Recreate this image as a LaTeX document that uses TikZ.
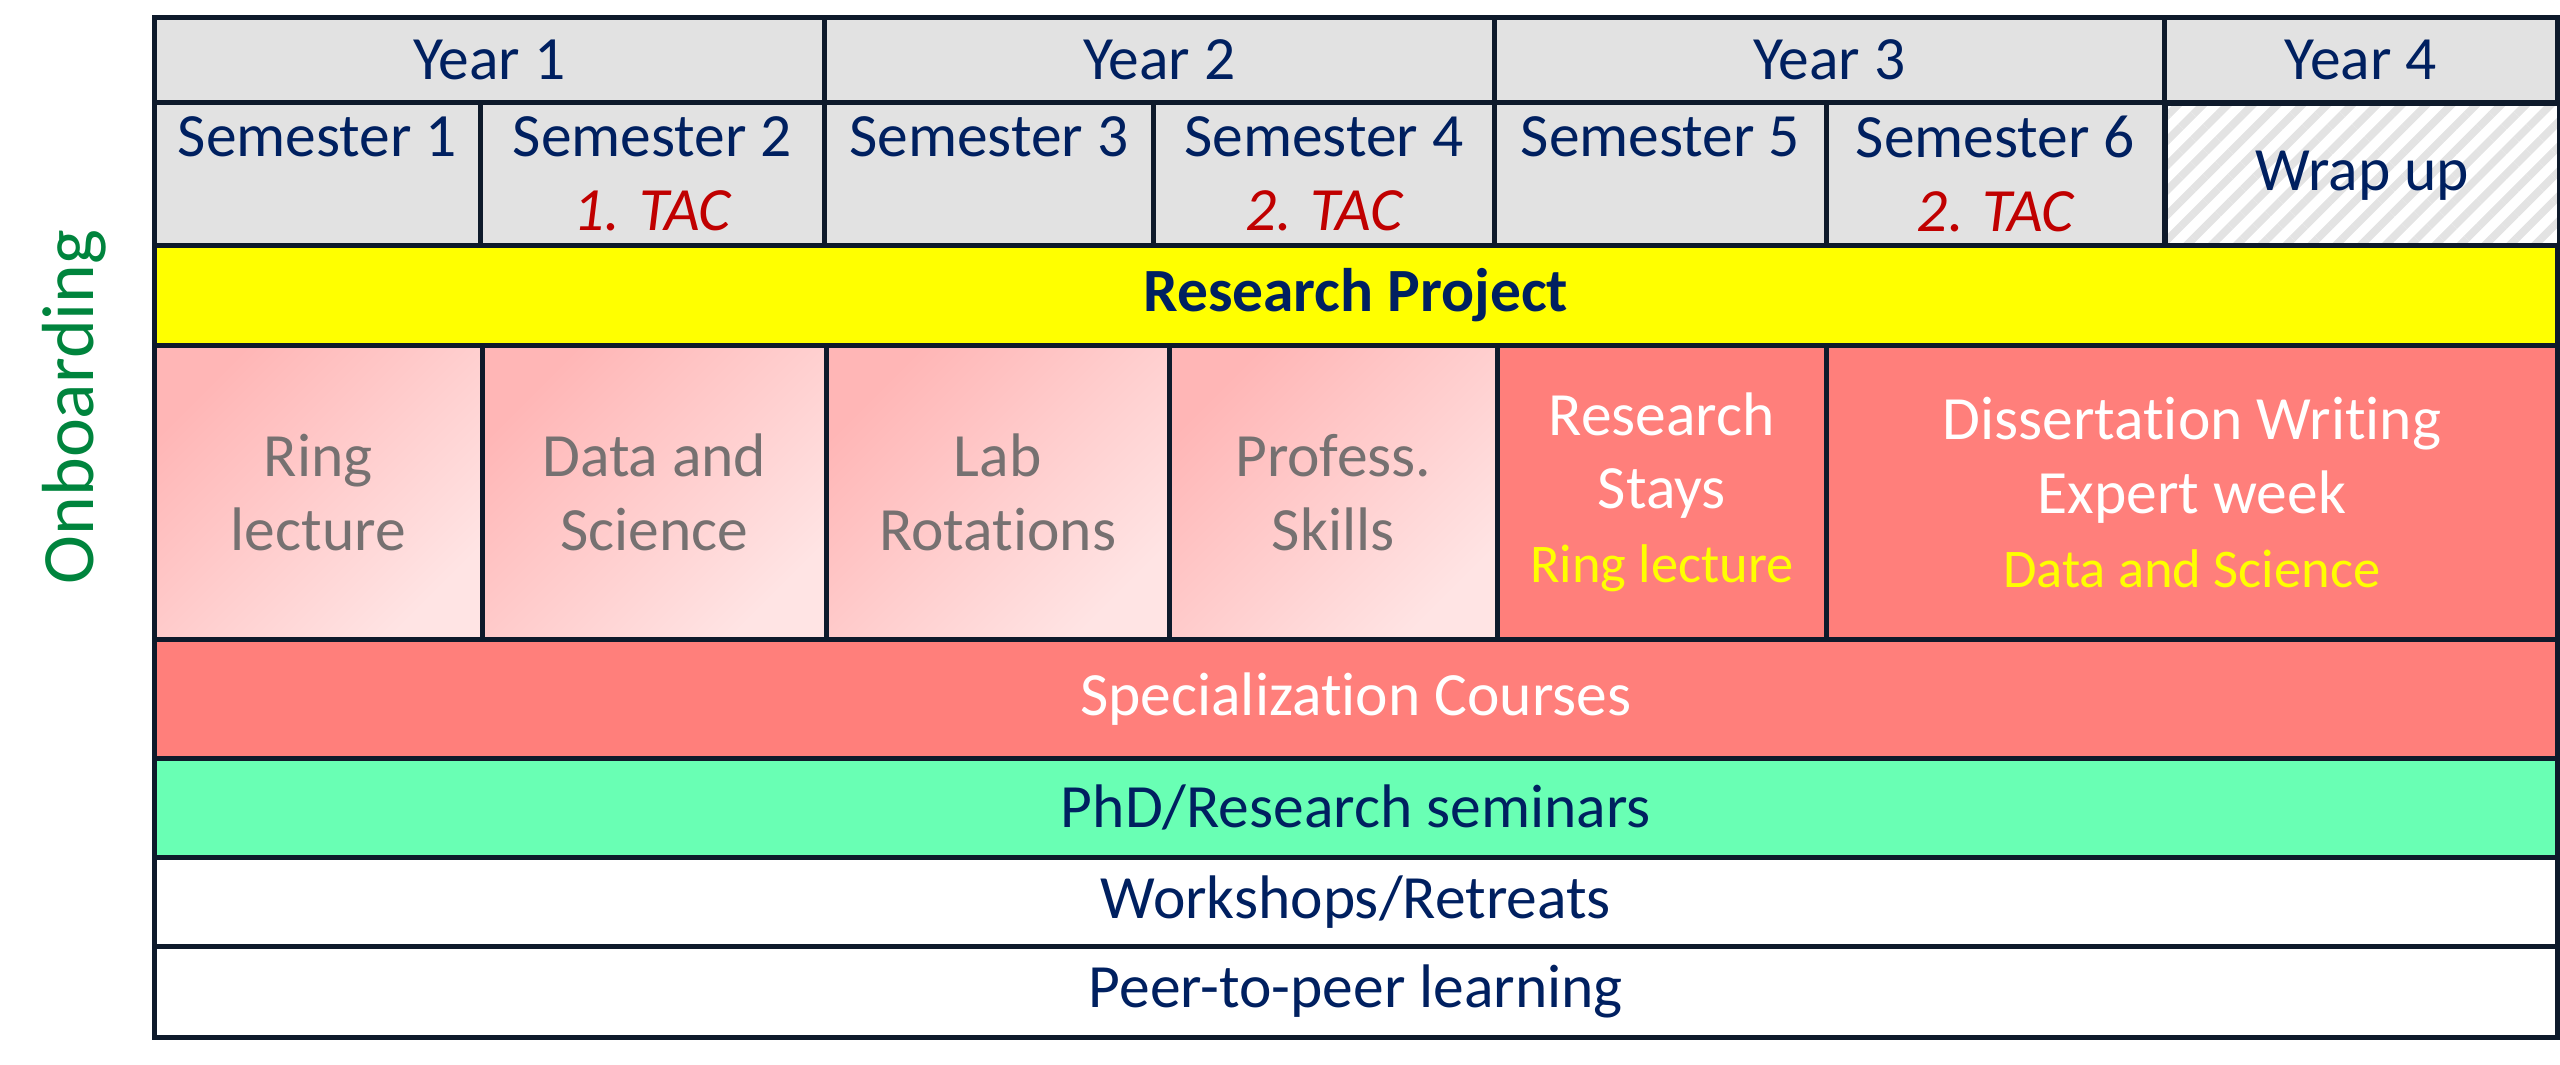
\documentclass[tikz,border=0pt]{standalone}
\usepackage{fontspec}
\setmainfont{Carlito}[Ligatures=NoCommon]
\usetikzlibrary{patterns.meta}

\definecolor{navy}{HTML}{002060}
\definecolor{tacred}{HTML}{C00000}
\definecolor{gridline}{HTML}{0E1A2B}
\definecolor{headgray}{HTML}{E2E2E2}
\definecolor{projyellow}{HTML}{FFFF00}
\definecolor{salmon}{HTML}{FF7F7B}
\definecolor{seminargreen}{HTML}{69FFB4}
\definecolor{pinkA}{HTML}{FFB6B6}
\definecolor{pinkB}{HTML}{FFE4E4}
\definecolor{greytext}{HTML}{767171}
\definecolor{onbgreen}{HTML}{00843D}
\definecolor{hatchgray}{HTML}{E3E3E3}

\newcommand{\tacmark}[1]{\textcolor{tacred}{\itshape #1}}
\newcommand{\subline}[1]{{\color{projyellow}\fontsize{15.5}{19}\selectfont #1}}

\tikzset{
  cell/.style={draw=gridline, line width=1.3pt, inner sep=0pt, anchor=north west,
    align=center, text=navy, font=\fontsize{17.5}{21}\selectfont},
  head/.style={cell, fill=headgray},
  pinkcell/.style={cell, text=greytext, top color=pinkA, bottom color=pinkB, shading angle=45},
  redcell/.style={cell, fill=salmon, text=white},
}

\begin{document}
\begin{tikzpicture}
\useasboundingbox (0,0) rectangle (25.6,-10.65);

% years
\foreach \i/\x/\w in {1/1.52/6.70, 2/8.22/6.70, 3/14.92/6.70, 4/21.62/3.93}
  \node[head, minimum width=\w cm, minimum height=0.85cm] (year\i) at (\x,-0.15) {Year \i};

% semesters
\node[head, minimum width=3.26cm, minimum height=1.43cm] (sem1) at (1.52,-1.00) {Semester 1\\\phantom{1. TAC}};
\node[head, minimum width=3.44cm, minimum height=1.43cm] (sem2) at (4.78,-1.00) {Semester 2\\\tacmark{1. TAC}};
\node[head, minimum width=3.29cm, minimum height=1.43cm] (sem3) at (8.22,-1.00) {Semester 3\\\phantom{2. TAC}};
\node[head, minimum width=3.41cm, minimum height=1.43cm] (sem4) at (11.51,-1.00) {Semester 4\\\tacmark{2. TAC}};
\node[head, minimum width=3.32cm, minimum height=1.43cm] (sem5) at (14.92,-1.00) {Semester 5\\\phantom{2. TAC}};
\node[head, minimum width=3.38cm, minimum height=1.43cm] (sem6) at (18.24,-1.00) {Semester 6\\\tacmark{2. TAC}};
\node[cell, minimum width=3.93cm, minimum height=1.43cm,
  pattern={Lines[angle=45,distance=5pt,line width=2.2pt]}, pattern color=hatchgray]
  (wrap) at (21.62,-1.00) {Wrap up};

% research project
\node[cell, fill=projyellow, minimum width=24.03cm, minimum height=1.00cm] (project) at (1.52,-2.43) {\bfseries Research Project};

% courses per semester
\node[pinkcell, minimum width=3.28cm, minimum height=2.94cm] (ring) at (1.52,-3.43) {Ring\\lecture};
\node[pinkcell, minimum width=3.44cm, minimum height=2.94cm] (data) at (4.80,-3.43) {Data and\\Science};
\node[pinkcell, minimum width=3.43cm, minimum height=2.94cm] (lab) at (8.24,-3.43) {Lab\\Rotations};
\node[pinkcell, minimum width=3.28cm, minimum height=2.94cm] (skills) at (11.67,-3.43) {Profess.\\Skills};
\node[redcell, minimum width=3.29cm, minimum height=2.94cm] (stays) at (14.95,-3.43) {Research\\Stays\\\subline{Ring lecture}};
\node[redcell, minimum width=7.31cm, minimum height=2.94cm] (thesis) at (18.24,-3.43) {Dissertation Writing\\Expert week\\\subline{Data and Science}};

% full width rows
\node[redcell, minimum width=24.03cm, minimum height=1.19cm] (special) at (1.52,-6.37) {Specialization Courses};
\node[cell, fill=seminargreen, minimum width=24.03cm, minimum height=0.99cm] (seminar) at (1.52,-7.56) {PhD/Research seminars};
\node[cell, fill=white, minimum width=24.03cm, minimum height=0.89cm] (retreat) at (1.52,-8.55) {Workshops/Retreats};
\node[cell, fill=white, minimum width=24.03cm, minimum height=0.91cm] (peer) at (1.52,-9.44) {Peer-to-peer learning};

\node[rotate=90, text=onbgreen, font=\fontsize{21}{25}\selectfont] (onboard) at (0.74,-4.07) {Onboarding};
\end{tikzpicture}
\end{document}
